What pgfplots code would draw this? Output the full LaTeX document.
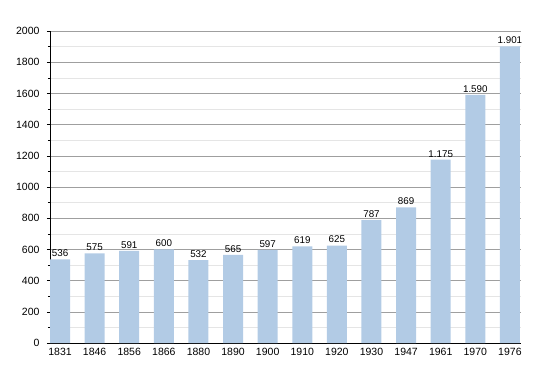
\documentclass[border=0pt]{standalone}
\usepackage{fontspec}
\setmainfont{Liberation Sans}
\usepackage{pgfplots}
\usepackage{pgfplotstable}
\pgfplotsset{compat=1.18}
\definecolor{barblue}{RGB}{178,203,229}
\pgfplotstableread{
x y lab
0 536 536
1 575 575
2 591 591
3 600 600
4 532 532
5 565 565
6 597 597
7 619 619
8 625 625
9 787 787
10 869 869
11 1175 1.175
12 1590 1.590
13 1901 1.901
}\datatable
\begin{document}
\begin{tikzpicture}
\useasboundingbox (-50pt,-30pt) rectangle (500pt,343pt);
\begin{axis}[
  at={(0pt,0pt)}, anchor=south west,
  scale only axis, width=471pt, height=312pt,
  xmin=-0.29, xmax=13.32, ymin=0, ymax=2000,
  axis x line*=bottom, axis y line*=left,
  axis line style={black, line width=0.8pt, -},
  xtick=data,
  xticklabels={1831,1846,1856,1866,1880,1890,1900,1910,1920,1930,1947,1961,1970,1976},
  x tick style={draw=none},
  ytick={0,200,...,2000}, minor y tick num=1,
  tick align=outside, major tick length=3pt, minor tick length=2pt,
  y tick style={black, line width=0.6pt},
  ymajorgrids, yminorgrids,
  major grid style={gray!75, line width=0.6pt},
  minor grid style={gray!20, line width=0.6pt},
  tick label style={font=\fontsize{10.5}{12}\selectfont},
  /pgf/number format/assume math mode=true,
  /pgf/number format/1000 sep={},
  yticklabel style={xshift=-4pt},
  xticklabel style={yshift=1pt},
  nodes near coords, point meta=explicit symbolic,
  every node near coord/.style={font=\fontsize{9.8}{11}\selectfont, black, yshift=-1pt},
]
\addplot[ybar, bar width=20pt, fill=barblue, draw=none] table[x=x, y=y, meta=lab] {\datatable};
\end{axis}
\end{tikzpicture}
\end{document}
